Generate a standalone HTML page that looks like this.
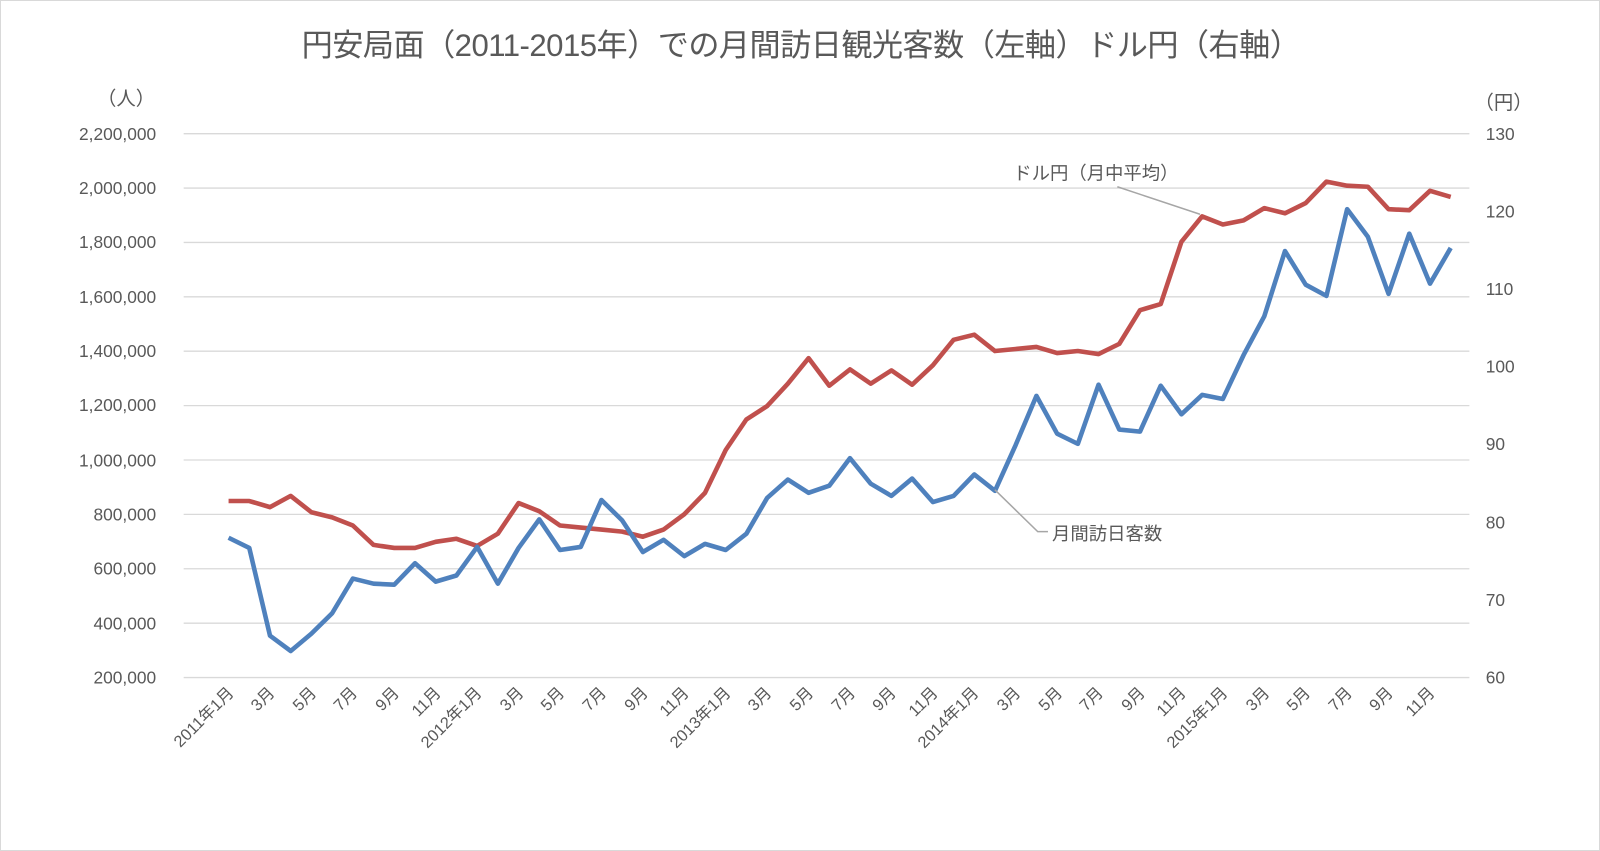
<!DOCTYPE html>
<html><head><meta charset="utf-8"><style>
html,body{margin:0;padding:0;background:#fff;}
svg{display:block;font-family:"Liberation Sans","Noto Sans CJK JP",sans-serif;}
</style></head><body>
<svg width="1600" height="851" viewBox="0 0 1600 851" xmlns="http://www.w3.org/2000/svg">
<rect x="0.5" y="0.5" width="1599" height="850" fill="#fff" stroke="#d9d9d9"/>
<g transform="scale(1.0204)">
<text x="785" y="55" text-anchor="middle" font-size="30.5" fill="#595959" letter-spacing="-0.5">円安局面（2011-2015年）での月間訪日観光客数（左軸）ドル円（右軸）</text>
<g stroke="#d9d9d9" stroke-width="1.3">
<line x1="180" x2="1440" y1="131" y2="131"/><line x1="180" x2="1440" y1="184.3" y2="184.3"/>
<line x1="180" x2="1440" y1="237.6" y2="237.6"/><line x1="180" x2="1440" y1="290.9" y2="290.9"/>
<line x1="180" x2="1440" y1="344.2" y2="344.2"/><line x1="180" x2="1440" y1="397.5" y2="397.5"/>
<line x1="180" x2="1440" y1="450.8" y2="450.8"/><line x1="180" x2="1440" y1="504.1" y2="504.1"/>
<line x1="180" x2="1440" y1="557.4" y2="557.4"/><line x1="180" x2="1440" y1="610.7" y2="610.7"/>
<line x1="180" x2="1440" y1="664" y2="664"/>
</g>
<g font-size="17" fill="#595959" text-anchor="end">
<text x="153" y="137">2,200,000</text><text x="153" y="190">2,000,000</text><text x="153" y="243">1,800,000</text>
<text x="153" y="297">1,600,000</text><text x="153" y="350">1,400,000</text><text x="153" y="403">1,200,000</text>
<text x="153" y="457">1,000,000</text><text x="153" y="510">800,000</text><text x="153" y="563">600,000</text>
<text x="153" y="617">400,000</text><text x="153" y="670">200,000</text>
</g>
<g font-size="17" fill="#595959" text-anchor="start">
<text x="1456" y="137">130</text><text x="1456" y="213">120</text><text x="1456" y="289">110</text>
<text x="1456" y="365">100</text><text x="1456" y="441">90</text><text x="1456" y="518">80</text>
<text x="1456" y="594">70</text><text x="1456" y="670">60</text>
</g>
<text x="95" y="103" font-size="19" fill="#595959">（人）</text>
<text x="1445" y="107" font-size="19" fill="#595959">（円）</text>
<g font-size="16" fill="#595959" text-anchor="end">
<text transform="translate(230,680) rotate(-45)">2011年1月</text>
<text transform="translate(270,680) rotate(-45)">3月</text>
<text transform="translate(311,680) rotate(-45)">5月</text>
<text transform="translate(351,680) rotate(-45)">7月</text>
<text transform="translate(392,680) rotate(-45)">9月</text>
<text transform="translate(433,680) rotate(-45)">11月</text>
<text transform="translate(473,680) rotate(-45)">2012年1月</text>
<text transform="translate(514,680) rotate(-45)">3月</text>
<text transform="translate(554,680) rotate(-45)">5月</text>
<text transform="translate(595,680) rotate(-45)">7月</text>
<text transform="translate(636,680) rotate(-45)">9月</text>
<text transform="translate(676,680) rotate(-45)">11月</text>
<text transform="translate(717,680) rotate(-45)">2013年1月</text>
<text transform="translate(757,680) rotate(-45)">3月</text>
<text transform="translate(798,680) rotate(-45)">5月</text>
<text transform="translate(839,680) rotate(-45)">7月</text>
<text transform="translate(879,680) rotate(-45)">9月</text>
<text transform="translate(920,680) rotate(-45)">11月</text>
<text transform="translate(960,680) rotate(-45)">2014年1月</text>
<text transform="translate(1001,680) rotate(-45)">3月</text>
<text transform="translate(1042,680) rotate(-45)">5月</text>
<text transform="translate(1082,680) rotate(-45)">7月</text>
<text transform="translate(1123,680) rotate(-45)">9月</text>
<text transform="translate(1163,680) rotate(-45)">11月</text>
<text transform="translate(1204,680) rotate(-45)">2015年1月</text>
<text transform="translate(1245,680) rotate(-45)">3月</text>
<text transform="translate(1285,680) rotate(-45)">5月</text>
<text transform="translate(1326,680) rotate(-45)">7月</text>
<text transform="translate(1366,680) rotate(-45)">9月</text>
<text transform="translate(1407,680) rotate(-45)">11月</text>
</g>
<polyline fill="none" stroke="#c0504d" stroke-width="4.5" stroke-linejoin="round" points="224,491 244.3,491 264.6,497 284.9,486 305.2,502 325.5,507 345.8,515 366.1,534 386.4,537 406.7,537 427,531 447.3,528 467.6,535 487.9,523 508.2,493 528.5,501 548.8,515 569.1,517 589.4,519 609.7,521 630,526 650.3,519 670.6,504 690.9,483 711.2,441 731.5,411 751.8,398 772.1,376 792.4,351 812.7,378 833,362 853.3,376 873.6,363 893.9,377 914.2,358 934.5,333 954.8,328 975.1,344 995.4,342 1015.7,340 1036,346 1056.3,344 1076.6,347 1096.9,337 1117.2,304 1137.5,298 1157.8,237 1178.1,212 1198.4,220 1218.7,216 1239,204 1259.3,209 1279.6,199 1299.9,178 1320.2,182 1340.5,183 1360.8,205 1381.1,206 1401.4,187 1421.7,193"/>
<polyline fill="none" stroke="#4f81bd" stroke-width="4.5" stroke-linejoin="round" points="224,527 244.3,537 264.6,623 284.9,638 305.2,621 325.5,601 345.8,567 366.1,572 386.4,573 406.7,552 427,570 447.3,564 467.6,536 487.9,572 508.2,537 528.5,509 548.8,539 569.1,536 589.4,490 609.7,510 630,541 650.3,529 670.6,545 690.9,533 711.2,539 731.5,523 751.8,488 772.1,470 792.4,483 812.7,476 833,449 853.3,474 873.6,486 893.9,469 914.2,492 934.5,486 954.8,465 975.1,481 995.4,436 1015.7,388 1036,425 1056.3,435 1076.6,377 1096.9,421 1117.2,423 1137.5,378 1157.8,406 1178.1,387 1198.4,391 1218.7,348 1239,310 1259.3,246 1279.6,279 1299.9,290 1320.2,205 1340.5,232 1360.8,288 1381.1,229 1401.4,278 1421.7,243"/>
<polyline fill="none" stroke="#a6a6a6" stroke-width="1.5" points="1095,183 1176,210"/>
<polyline fill="none" stroke="#a6a6a6" stroke-width="1.5" points="975,480 1017,521 1027,521"/>
<text x="993" y="176" font-size="18" fill="#595959">ドル円（月中平均）</text>
<text x="1031" y="529" font-size="18" fill="#595959">月間訪日客数</text>
</g>
</svg>
</body></html>
